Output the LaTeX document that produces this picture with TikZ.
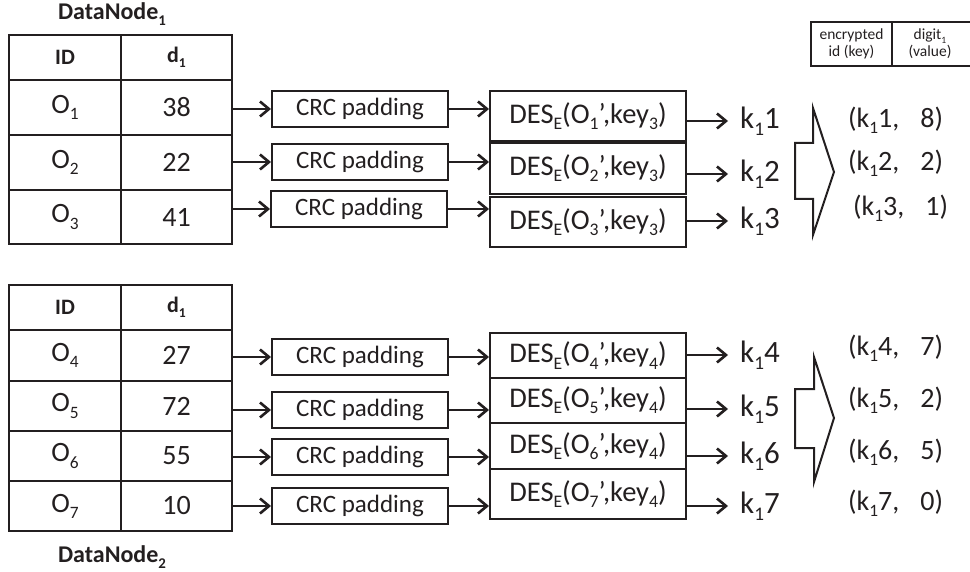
\documentclass[tikz,border=0pt]{standalone}
\usepackage{fontspec}
\setmainfont{Carlito}
\usepackage{xcolor}
\usetikzlibrary{arrows.meta}
\definecolor{ink}{HTML}{231F20}

\tikzset{
    cell/.style={draw=ink, line width=2pt, inner sep=0pt, text=ink,
        font=\fontsize{28}{30}\selectfont},
    headcell/.style={cell, font=\fontsize{22}{24}\selectfont\bfseries},
    crcbox/.style={draw=ink, line width=2pt, inner sep=0pt, text=ink,
        minimum width=176pt, minimum height=36pt, font=\fontsize{25}{27}\selectfont},
    desbox/.style={draw=ink, line width=2pt, inner sep=0pt, text=ink,
        minimum width=196pt, font=\fontsize{28.5}{30}\selectfont},
    keylabel/.style={anchor=west, inner xsep=12pt, inner ysep=0pt, text=ink,
        font=\fontsize{31}{33}\selectfont},
    pairlabel/.style={anchor=west, inner sep=0pt, text=ink,
        font=\fontsize{28}{30}\selectfont},
    titlelabel/.style={text=ink, inner sep=0pt, font=\fontsize{24}{26}\selectfont\bfseries},
    legendlabel/.style={text=ink, align=center, inner sep=0pt, font=\fontsize{15.5}{17}\selectfont},
    arr/.style={draw=ink, line width=2.6pt, -{Straight Barb[length=9pt, width=15pt]}},
    bigarrow/.style={draw=ink, line width=2pt, line join=miter}
}

\newcommand{\sbs}[1]{\raisebox{-0.22em}{\scalebox{0.62}{#1}}}
\newcommand{\pairsep}{,\hspace{0.75em}}

\begin{document}
\begin{tikzpicture}[x=1pt, y=-1pt]
        \useasboundingbox (0, 0) rectangle (970, 572);
        % DataNode 1
        \node [titlelabel] (dn1) at (112, 14) {DataNode\sbs{1}};
        \node [headcell, minimum width=112pt, minimum height=45pt] (ida) at (65, 57.5) {ID};
        \node [headcell, minimum width=111pt, minimum height=45pt] (da) at (176.5, 57.5) {d\sbs{1}};
        \node [cell, minimum width=112pt, minimum height=55pt] (o1) at (65, 107.5) {O\sbs{1}};
        \node [cell, minimum width=111pt, minimum height=55pt] (v1) at (176.5, 107.5) {38};
        \node [cell, minimum width=112pt, minimum height=55pt] (o2) at (65, 162.5) {O\sbs{2}};
        \node [cell, minimum width=111pt, minimum height=55pt] (v2) at (176.5, 162.5) {22};
        \node [cell, minimum width=112pt, minimum height=54pt] (o3) at (65, 217) {O\sbs{3}};
        \node [cell, minimum width=111pt, minimum height=54pt] (v3) at (176.5, 217) {41};
        % DataNode 2
        \node [headcell, minimum width=112pt, minimum height=45pt] (idb) at (65, 307.5) {ID};
        \node [headcell, minimum width=111pt, minimum height=45pt] (db) at (176.5, 307.5) {d\sbs{1}};
        \node [cell, minimum width=112pt, minimum height=51pt] (o4) at (65, 355.5) {O\sbs{4}};
        \node [cell, minimum width=111pt, minimum height=51pt] (v4) at (176.5, 355.5) {27};
        \node [cell, minimum width=112pt, minimum height=50pt] (o5) at (65, 406) {O\sbs{5}};
        \node [cell, minimum width=111pt, minimum height=50pt] (v5) at (176.5, 406) {72};
        \node [cell, minimum width=112pt, minimum height=50pt] (o6) at (65, 456) {O\sbs{6}};
        \node [cell, minimum width=111pt, minimum height=50pt] (v6) at (176.5, 456) {55};
        \node [cell, minimum width=112pt, minimum height=50pt] (o7) at (65, 506) {O\sbs{7}};
        \node [cell, minimum width=111pt, minimum height=50pt] (v7) at (176.5, 506) {10};
        \node [titlelabel] (dn2) at (112, 557) {DataNode\sbs{2}};
        % CRC padding
        \node [crcbox] (crc1) at (360, 109) {CRC padding};
        \node [crcbox] (crc2) at (360, 162) {CRC padding};
        \node [crcbox] (crc3) at (359, 209) {CRC padding};
        \node [crcbox] (crc4) at (360, 357) {CRC padding};
        \node [crcbox] (crc5) at (360, 410) {CRC padding};
        \node [crcbox] (crc6) at (360, 457) {CRC padding};
        \node [crcbox] (crc7) at (360, 506) {CRC padding};
        % Encryption
        \node [desbox, minimum height=50pt] (des1) at (588, 116) {DES\sbs{E}(O\sbs{1}’,key\sbs{3})};
        \node [desbox, minimum height=51pt] (des2) at (588, 168.5) {DES\sbs{E}(O\sbs{2}’,key\sbs{3})};
        \node [desbox, minimum height=50pt] (des3) at (588, 222) {DES\sbs{E}(O\sbs{3}’,key\sbs{3})};
        \node [desbox, minimum height=45pt] (des4) at (588, 355.5) {DES\sbs{E}(O\sbs{4}’,key\sbs{4})};
        \node [desbox, minimum height=45pt] (des5) at (588, 400.5) {DES\sbs{E}(O\sbs{5}’,key\sbs{4})};
        \node [desbox, minimum height=46pt] (des6) at (588, 446) {DES\sbs{E}(O\sbs{6}’,key\sbs{4})};
        \node [desbox, minimum height=50pt] (des7) at (588, 494) {DES\sbs{E}(O\sbs{7}’,key\sbs{4})};
        % Encrypted ids
        \node [keylabel] (k1) at (728, 121) {k\sbs{1}1};
        \node [keylabel] (k2) at (728, 174) {k\sbs{1}2};
        \node [keylabel] (k3) at (728, 221) {k\sbs{1}3};
        \node [keylabel] (k4) at (728, 355) {k\sbs{1}4};
        \node [keylabel] (k5) at (728, 409) {k\sbs{1}5};
        \node [keylabel] (k6) at (728, 456) {k\sbs{1}6};
        \node [keylabel] (k7) at (728, 506) {k\sbs{1}7};
        % Key-value pairs
        \node [pairlabel] (p1) at (848, 120) {(k\sbs{1}1\pairsep 8)};
        \node [pairlabel] (p2) at (848, 163) {(k\sbs{1}2\pairsep 2)};
        \node [pairlabel] (p3) at (853, 208) {(k\sbs{1}3\pairsep 1)};
        \node [pairlabel] (p4) at (848, 348) {(k\sbs{1}4\pairsep 7)};
        \node [pairlabel] (p5) at (848, 400) {(k\sbs{1}5\pairsep 2)};
        \node [pairlabel] (p6) at (848, 452) {(k\sbs{1}6\pairsep 5)};
        \node [pairlabel] (p7) at (848, 503) {(k\sbs{1}7\pairsep 0)};
        % Legend
        \node [legendlabel] (enc) at (851.5, 44) {encrypted\\id (key)};
        \node [legendlabel] (dig) at (930, 44) {digit\sbs{1}\\(value)};
        \draw [draw=ink, line width=1.5pt] (970, 22) -- (811, 22) -- (811, 66) -- (970, 66);
        \draw [draw=ink, line width=1.5pt] (892, 22) -- (892, 66);
        % Arrows
        \foreach \i in {1,...,7} {
            \draw [arr] (v\i.east |- crc\i.west) -- (crc\i.west);
            \draw [arr] (crc\i.east) -- (crc\i.east -| des\i.west);
            \draw [arr] (des\i.east |- k\i.west) -- (k\i.west);
        }
        % Merge arrows
        \draw [bigarrow] (795, 143) -- (813, 143) -- (813, 108) -- (834, 172) -- (813, 235) -- (813, 199) -- (795, 199) -- cycle;
        \draw [bigarrow] (795, 389) -- (814, 389) -- (814, 357) -- (834, 418) -- (814, 482) -- (814, 448) -- (795, 448) -- cycle;
    \end{tikzpicture}
\end{document}
